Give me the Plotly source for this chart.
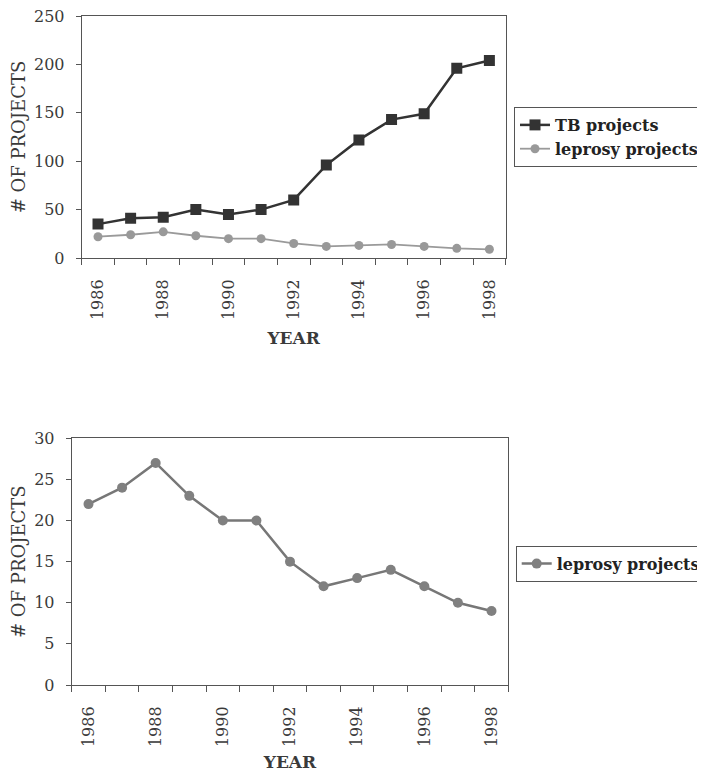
import plotly.graph_objects as go

years = list(range(1986, 1999))
tb_projects = [35, 41, 42, 50, 45, 50, 60, 96, 122, 143, 149, 196, 204]
leprosy_projects = [22, 24, 27, 23, 20, 20, 15, 12, 13, 14, 12, 10, 9]
year_ticks = [1986, 1988, 1990, 1992, 1994, 1996, 1998]
top_yticks = [0, 50, 100, 150, 200, 250]
bottom_yticks = [0, 5, 10, 15, 20, 25, 30]

OFF = 8  # default page body margin
W, H = 705 - OFF, 772 - OFF
SERIF = "DejaVu Serif"
AX = "#555555"
TXT = "#3a3a3a"

fig = go.Figure()

fig.add_trace(go.Scatter(
    x=years, y=tb_projects, name="TB projects", mode="lines+markers",
    line=dict(color="#333333", width=2.5),
    marker=dict(symbol="square", size=11, color="#333333"),
    xaxis="x", yaxis="y", legend="legend"))
fig.add_trace(go.Scatter(
    x=years, y=leprosy_projects, name="leprosy projects", mode="lines+markers",
    line=dict(color="#9a9a9a", width=1.8),
    marker=dict(symbol="circle", size=9, color="#999999"),
    xaxis="x", yaxis="y", legend="legend"))
fig.add_trace(go.Scatter(
    x=years, y=leprosy_projects, name="leprosy projects", mode="lines+markers",
    line=dict(color="#777777", width=2.5),
    marker=dict(symbol="circle", size=10, color="#808080"),
    xaxis="x2", yaxis="y2", legend="legend2"))

def px_x(p):
    return (p - OFF) / W

def px_y(p):
    return 1 - (p - OFF) / H

xcommon = dict(
    range=[1985.5, 1998.5], tickmode="array", tickvals=year_ticks,
    ticktext=[str(v) for v in year_ticks], tickangle=-90,
    ticks="outside", ticklen=6, tickcolor="rgba(0,0,0,0)",
    ticklabelstandoff=8, automargin=False, ticklabeloverflow="allow",
    minor=dict(ticks="outside", tick0=1985.5, dtick=1, ticklen=6,
               tickcolor=AX, tickwidth=1, showgrid=False),
    showline=True, linecolor=AX, linewidth=1, mirror=True,
    showgrid=False, zeroline=False,
    tickfont=dict(family=SERIF, size=16, color=TXT),
)
ycommon = dict(
    ticks="outside", ticklen=5, tickcolor=AX, tickwidth=1,
    ticklabelstandoff=8, automargin=False, ticklabeloverflow="allow",
    showline=True, linecolor=AX, linewidth=1, mirror=True,
    showgrid=False, zeroline=False,
    tickfont=dict(family=SERIF, size=16, color=TXT),
    title=dict(text="# OF PROJECTS", font=dict(family=SERIF, size=18, color=TXT), standoff=17),
)

fig.update_layout(
    width=W, height=H,
    margin=dict(l=0, r=0, t=0, b=0, autoexpand=False),
    paper_bgcolor="white", plot_bgcolor="white",
    showlegend=True,
    xaxis=dict(domain=[px_x(81.7), px_x(505.7)], anchor="y",
               title=dict(text="<b>YEAR</b>", font=dict(family=SERIF, size=17, color=TXT), standoff=12),
               **xcommon),
    yaxis=dict(domain=[px_y(258), px_y(16)], anchor="x", range=[0, 250],
               tickvals=top_yticks, **ycommon),
    xaxis2=dict(domain=[px_x(71.7), px_x(508.3)], anchor="y2",
                title=dict(text="<b>YEAR</b>", font=dict(family=SERIF, size=17, color=TXT), standoff=10),
                **xcommon),
    yaxis2=dict(domain=[px_y(685), px_y(438.3)], anchor="x2", range=[0, 30],
                tickvals=bottom_yticks, **ycommon),
    legend=dict(x=px_x(514), y=px_y(107), xanchor="left", yanchor="top",
                bordercolor="#555555", borderwidth=1, bgcolor="white",
                font=dict(family=SERIF, size=16, color="#222222", weight="bold"),
                tracegroupgap=0, itemwidth=30),
    legend2=dict(x=px_x(515.7), y=px_y(545.7), xanchor="left", yanchor="top",
                 bordercolor="#555555", borderwidth=1, bgcolor="white",
                 font=dict(family=SERIF, size=16, color="#222222", weight="bold"),
                 itemwidth=30),
)

fig.write_html("out.html")
